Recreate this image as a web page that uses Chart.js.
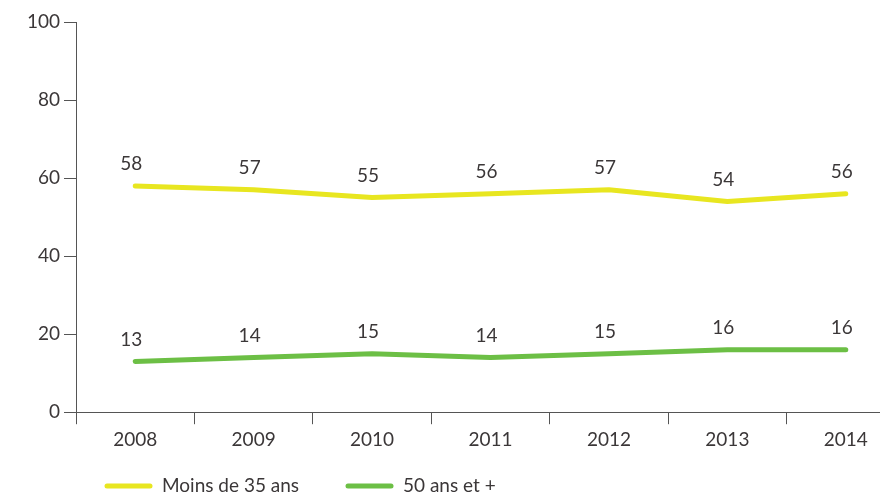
<!DOCTYPE html>
<html>
<head>
<meta charset="utf-8">
<script src="https://cdn.jsdelivr.net/npm/chart.js@4/dist/chart.umd.min.js"></script>
<style>
  body { margin: 0; overflow: hidden; background: #fff; }
  #wrap { width: 905px; height: 497px; }
</style>
</head>
<body>
<div id="wrap"><canvas id="myChart"></canvas></div>
<script>
// values
const years = ["2008", "2009", "2010", "2011", "2012", "2013", "2014"];
const moins35 = [58, 57, 55, 56, 57, 54, 56];
const plus50 = [13, 14, 15, 14, 15, 16, 16];
const yTicks = [0, 20, 40, 60, 80, 100];

const txtColor = "#3b3738";
const fontFam = "Lato, 'Open Sans', sans-serif";

// number above each point
const valueLabels = {
  id: "valueLabels",
  afterDatasetsDraw(chart) {
    const ctx = chart.ctx;
    ctx.save();
    ctx.font = "19px " + fontFam;
    ctx.fillStyle = txtColor;
    ctx.textAlign = "center";
    ctx.textBaseline = "middle";
    chart.data.datasets.forEach((ds, i) => {
      chart.getDatasetMeta(i).data.forEach((pt, j) => {
        ctx.fillText(ds.data[j], pt.x - 4, pt.y - 22);
      });
    });
    ctx.restore();
  }
};

// legend drawn by hand at the bottom left
const bottomLegend = {
  id: "bottomLegend",
  afterDraw(chart) {
    const ctx = chart.ctx;
    const y = 486;
    const starts = [105, 346];
    ctx.save();
    ctx.font = "19px " + fontFam;
    ctx.textBaseline = "middle";
    chart.data.datasets.forEach((ds, i) => {
      const x = starts[i];
      ctx.strokeStyle = ds.borderColor;
      ctx.lineWidth = 5;
      ctx.lineCap = "round";
      ctx.beginPath();
      ctx.moveTo(x + 2, y);
      ctx.lineTo(x + 45, y);
      ctx.stroke();
      ctx.fillStyle = txtColor;
      ctx.fillText(ds.label, x + 57, y);
    });
    ctx.restore();
  }
};

const data = {
  labels: years,
  datasets: [{
    label: "Moins de 35 ans",
    data: moins35,
    borderColor: "#e8e620",
    borderWidth: 5,
    borderCapStyle: "round",
    borderJoinStyle: "round",
    pointRadius: 0,
    tension: 0,
    fill: false
  }, {
    label: "50 ans et +",
    data: plus50,
    borderColor: "#6cbf45",
    borderWidth: 5,
    borderCapStyle: "round",
    borderJoinStyle: "round",
    pointRadius: 0,
    tension: 0,
    fill: false
  }]
};

const config = {
  type: "line",
  data: data,
  plugins: [valueLabels, bottomLegend],
  options: {
    responsive: true,
    maintainAspectRatio: false,
    animation: false,
    layout: { padding: { top: 22, bottom: 42, left: 0, right: 0 } },
    plugins: {
      legend: { display: false },
      tooltip: { enabled: false }
    },
    scales: {
      x: {
        offset: true,
        grid: {
          offset: true,
          drawOnChartArea: false,
          color: "#555",
          tickLength: 12
        },
        border: { color: "#555", width: 1 },
        ticks: { color: txtColor, font: { family: fontFam, size: 19 }, padding: 4 }
      },
      y: {
        min: 0,
        max: 100,
        afterBuildTicks(s) { s.ticks = yTicks.map(v => ({ value: v })); },
        afterFit(s) { s.width = 76; },
        grid: { drawOnChartArea: false, color: "#555", tickLength: 12 },
        border: { color: "#555", width: 1 },
        ticks: { color: txtColor, font: { family: fontFam, size: 19 }, padding: 4 }
      }
    }
  }
};

const ctx = document.getElementById("myChart").getContext("2d");
const myChart = new Chart(ctx, config);
</script>
</body>
</html>
